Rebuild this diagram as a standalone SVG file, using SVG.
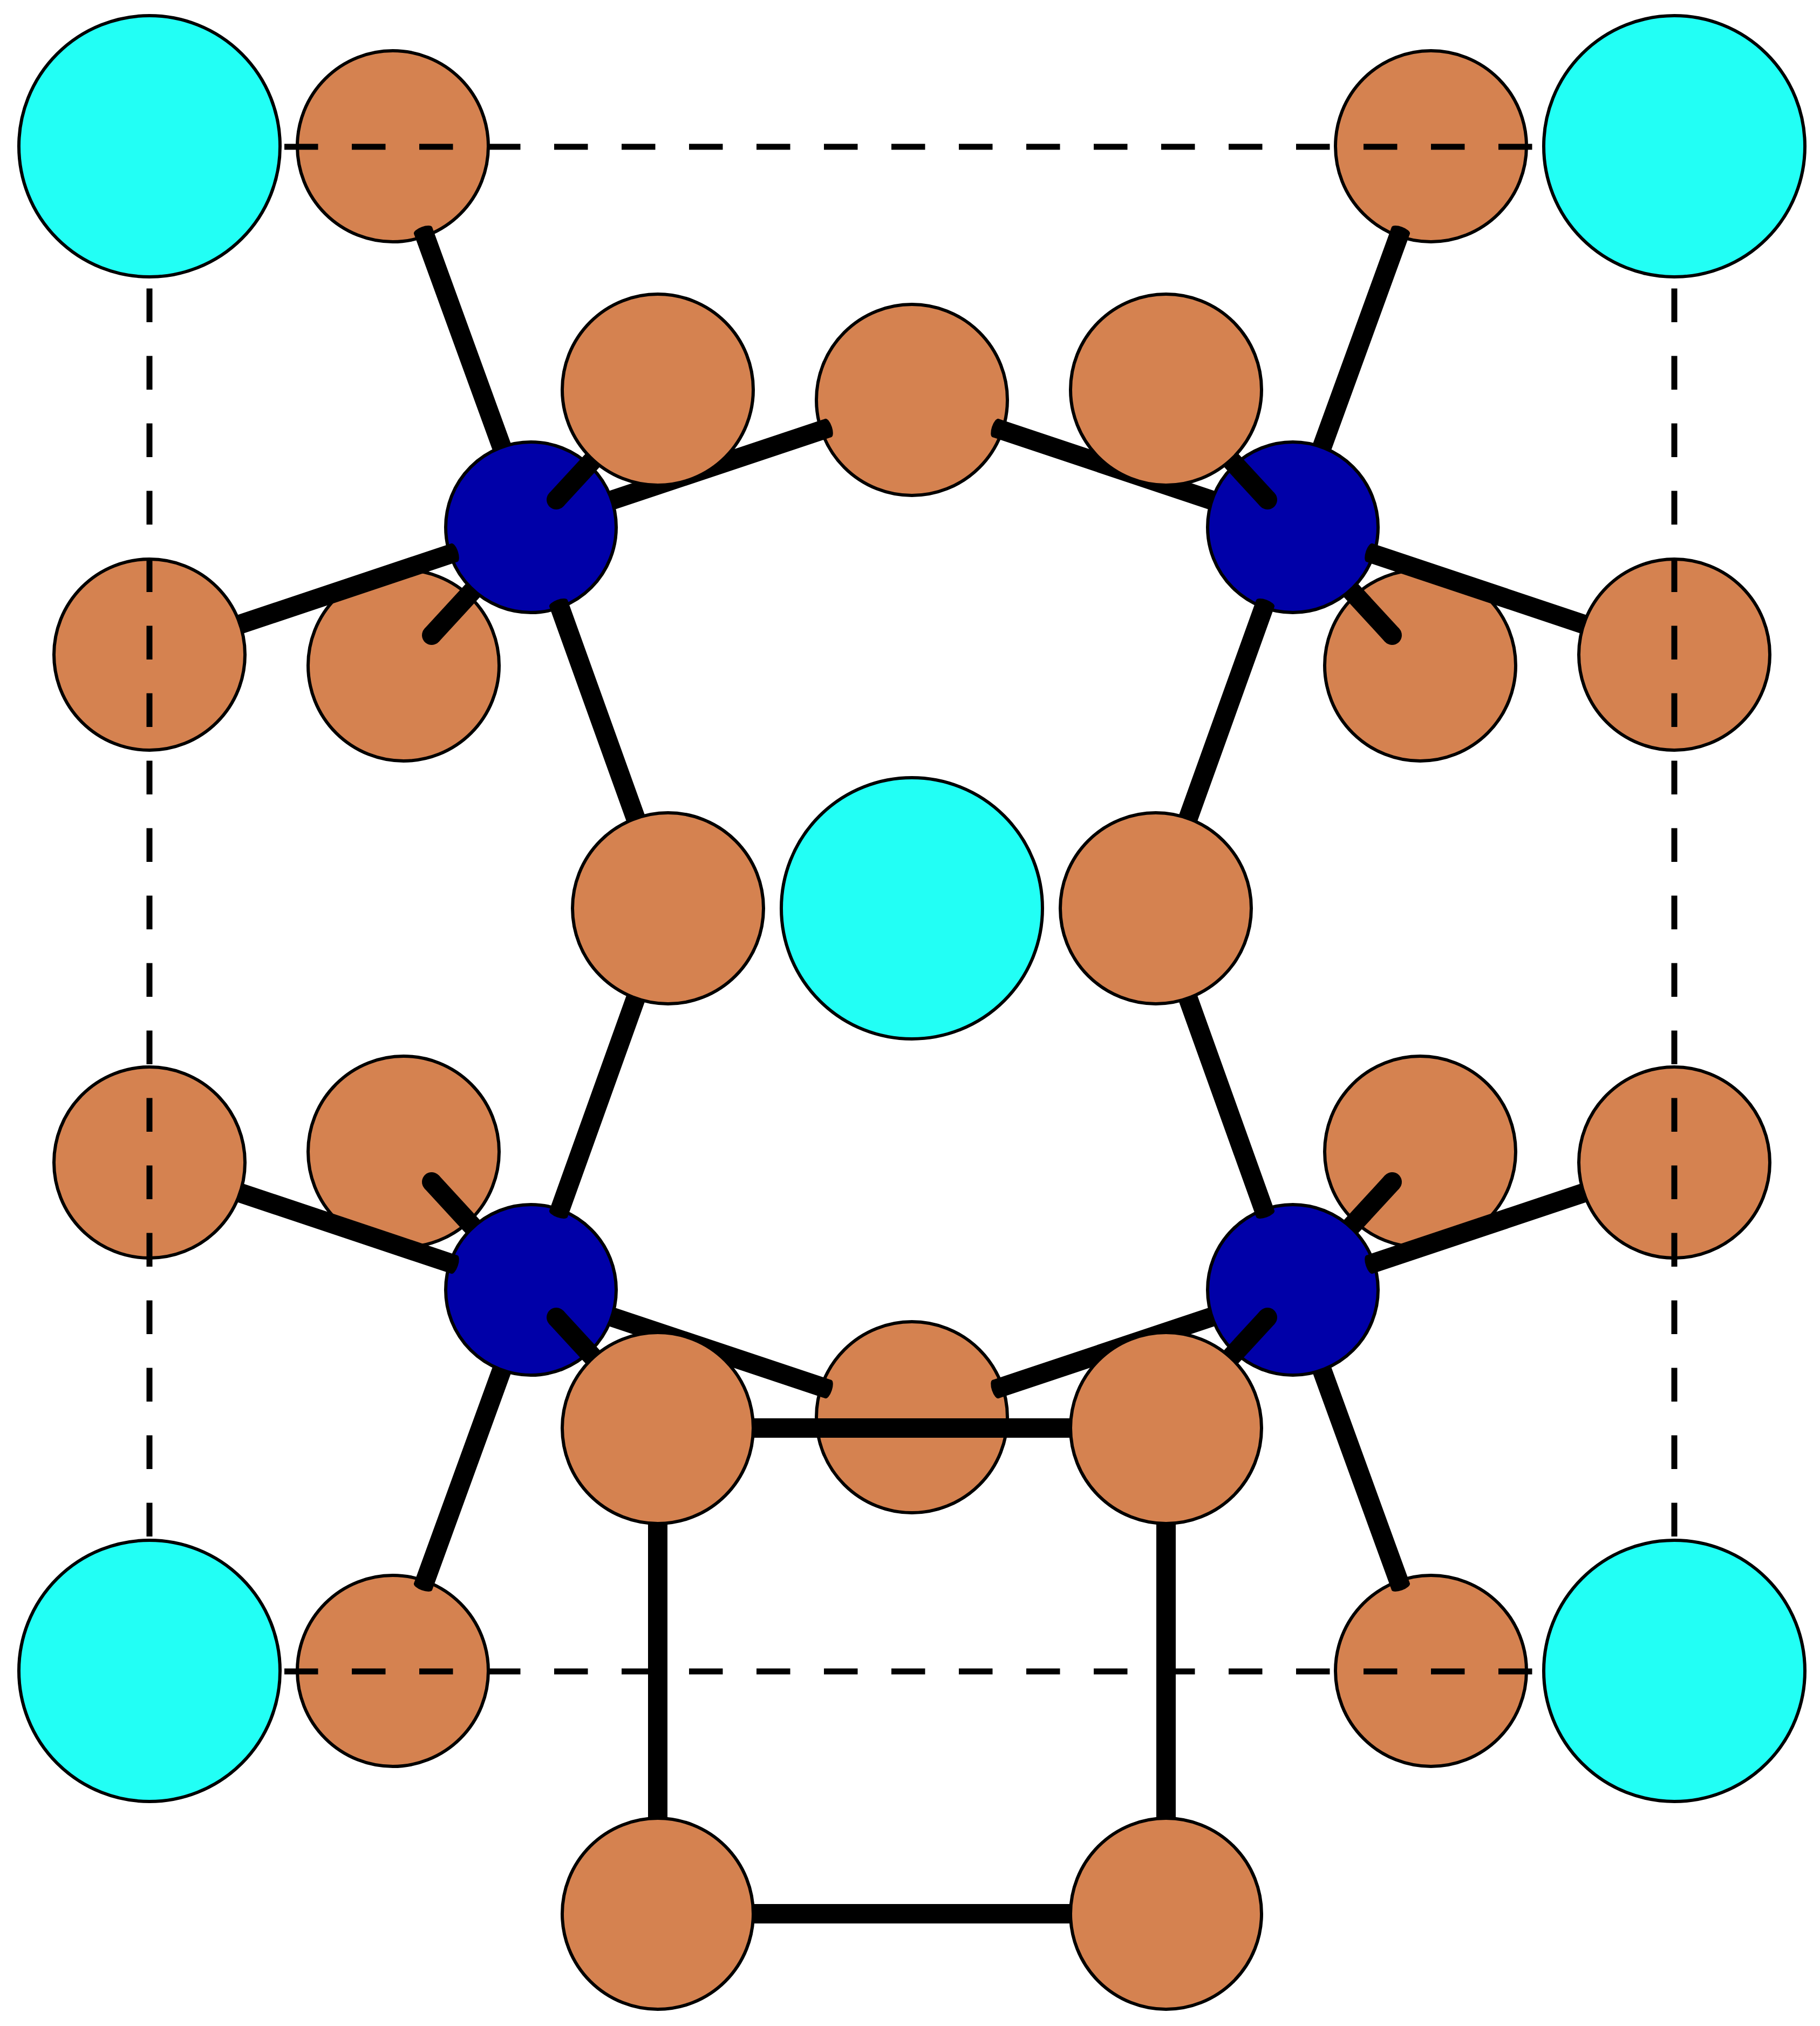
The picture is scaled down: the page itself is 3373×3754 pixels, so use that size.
<svg xmlns="http://www.w3.org/2000/svg" width="3373" height="3754" viewBox="0 0 3373 3754">
<style>
circle{stroke:#000;stroke-width:6}
.cu circle{fill:#d58250}
.co circle{fill:#0000a8}
.ca circle{fill:#22fff5}
.cu,.co,.ca{}
.bond line{stroke:#000;stroke-width:36;fill:none}
.bond ellipse{fill:#000}
.dash line{stroke:#000;stroke-width:11;stroke-dasharray:62.5 62.5;fill:none}
</style>
<rect width="3373" height="3754" fill="#fff"/>
<g id="copper-back">
<g id="cu-back-1" class="cu"><circle cx="1690" cy="741" r="177"/></g>
<g id="cu-back-2" class="cu"><circle cx="1690" cy="2626" r="177"/></g>
<g id="cu-back-3" class="cu"><circle cx="728" cy="271" r="177"/></g>
<g id="cu-back-4" class="cu"><circle cx="2652" cy="271" r="177"/></g>
<g id="cu-back-5" class="cu"><circle cx="728" cy="3096" r="177"/></g>
<g id="cu-back-6" class="cu"><circle cx="2652" cy="3096" r="177"/></g>
<g id="cu-back-7" class="cu"><circle cx="748" cy="1233" r="177"/></g>
<g id="cu-back-8" class="cu"><circle cx="2632" cy="1233" r="177"/></g>
<g id="cu-back-9" class="cu"><circle cx="748" cy="2134" r="177"/></g>
<g id="cu-back-10" class="cu"><circle cx="2632" cy="2134" r="177"/></g>
</g>
<g id="connectors-back" class="bond">
<line x1="984" y1="977" x2="784" y2="427"/><ellipse cx="784" cy="427" rx="7" ry="18" transform="rotate(70 784 427)"/>
<line x1="984" y1="977" x2="1535" y2="793"/><ellipse cx="1535" cy="793" rx="7" ry="18" transform="rotate(-18.5 1535 793)"/>
<line x1="984" y1="977" x2="800" y2="1177"/><ellipse cx="800" cy="1177" rx="18" ry="18" transform="rotate(-47.3 800 1177)"/>
<line x1="2396" y1="977" x2="2596" y2="427"/><ellipse cx="2596" cy="427" rx="7" ry="18" transform="rotate(-70 2596 427)"/>
<line x1="2396" y1="977" x2="1845" y2="793"/><ellipse cx="1845" cy="793" rx="7" ry="18" transform="rotate(18.5 1845 793)"/>
<line x1="2396" y1="977" x2="2580" y2="1177"/><ellipse cx="2580" cy="1177" rx="18" ry="18" transform="rotate(47.3 2580 1177)"/>
<line x1="984" y1="2390" x2="784" y2="2940"/><ellipse cx="784" cy="2940" rx="7" ry="18" transform="rotate(-70 784 2940)"/>
<line x1="984" y1="2390" x2="1535" y2="2574"/><ellipse cx="1535" cy="2574" rx="7" ry="18" transform="rotate(18.5 1535 2574)"/>
<line x1="984" y1="2390" x2="800" y2="2190"/><ellipse cx="800" cy="2190" rx="18" ry="18" transform="rotate(47.3 800 2190)"/>
<line x1="2396" y1="2390" x2="2596" y2="2940"/><ellipse cx="2596" cy="2940" rx="7" ry="18" transform="rotate(70 2596 2940)"/>
<line x1="2396" y1="2390" x2="1845" y2="2574"/><ellipse cx="1845" cy="2574" rx="7" ry="18" transform="rotate(-18.5 1845 2574)"/>
<line x1="2396" y1="2390" x2="2580" y2="2190"/><ellipse cx="2580" cy="2190" rx="18" ry="18" transform="rotate(-47.3 2580 2190)"/>
</g>
<g id="cobalt">
<g id="co-1" class="co"><circle cx="984" cy="977" r="158"/></g>
<g id="co-2" class="co"><circle cx="2396" cy="977" r="158"/></g>
<g id="co-3" class="co"><circle cx="984" cy="2390" r="158"/></g>
<g id="co-4" class="co"><circle cx="2396" cy="2390" r="158"/></g>
</g>
<g id="connectors-front" class="bond">
<line x1="277" y1="1213" x2="842" y2="1024"/><ellipse cx="842" cy="1024" rx="7" ry="18" transform="rotate(-18.5 842 1024)"/>
<line x1="1238" y1="1683" x2="1035" y2="1118"/><ellipse cx="1035" cy="1118" rx="7" ry="18" transform="rotate(70.2 1035 1118)"/>
<line x1="1219" y1="722" x2="1031" y2="926"/><ellipse cx="1031" cy="926" rx="18" ry="18" transform="rotate(-47.3 1031 926)"/>
<line x1="3103" y1="1213" x2="2538" y2="1024"/><ellipse cx="2538" cy="1024" rx="7" ry="18" transform="rotate(18.5 2538 1024)"/>
<line x1="2142" y1="1683" x2="2345" y2="1118"/><ellipse cx="2345" cy="1118" rx="7" ry="18" transform="rotate(-70.2 2345 1118)"/>
<line x1="2161" y1="722" x2="2349" y2="926"/><ellipse cx="2349" cy="926" rx="18" ry="18" transform="rotate(47.3 2349 926)"/>
<line x1="277" y1="2154" x2="842" y2="2343"/><ellipse cx="842" cy="2343" rx="7" ry="18" transform="rotate(18.5 842 2343)"/>
<line x1="1238" y1="1683" x2="1035" y2="2249"/><ellipse cx="1035" cy="2249" rx="7" ry="18" transform="rotate(-70.2 1035 2249)"/>
<line x1="1219" y1="2645" x2="1031" y2="2441"/><ellipse cx="1031" cy="2441" rx="18" ry="18" transform="rotate(47.3 1031 2441)"/>
<line x1="3103" y1="2154" x2="2538" y2="2343"/><ellipse cx="2538" cy="2343" rx="7" ry="18" transform="rotate(-18.5 2538 2343)"/>
<line x1="2142" y1="1683" x2="2345" y2="2249"/><ellipse cx="2345" cy="2249" rx="7" ry="18" transform="rotate(70.2 2345 2249)"/>
<line x1="2161" y1="2645" x2="2349" y2="2441"/><ellipse cx="2349" cy="2441" rx="18" ry="18" transform="rotate(-47.3 2349 2441)"/>
<line x1="1219" y1="2646" x2="2161" y2="2646"/>
<line x1="1219" y1="2646" x2="1219" y2="3546"/>
<line x1="2161" y1="2646" x2="2161" y2="3546"/>
<line x1="1219" y1="3546" x2="2161" y2="3546"/>
</g>
<g id="copper-front">
<g id="cu-front-1" class="cu"><circle cx="277" cy="1213" r="177"/></g>
<g id="cu-front-2" class="cu"><circle cx="3103" cy="1213" r="177"/></g>
<g id="cu-front-3" class="cu"><circle cx="277" cy="2154" r="177"/></g>
<g id="cu-front-4" class="cu"><circle cx="3103" cy="2154" r="177"/></g>
<g id="cu-front-5" class="cu"><circle cx="1238" cy="1683" r="177"/></g>
<g id="cu-front-6" class="cu"><circle cx="2142" cy="1683" r="177"/></g>
<g id="cu-front-7" class="cu"><circle cx="1219" cy="722" r="177"/></g>
<g id="cu-front-8" class="cu"><circle cx="2161" cy="722" r="177"/></g>
<g id="cu-front-9" class="cu"><circle cx="1219" cy="2646" r="177"/></g>
<g id="cu-front-10" class="cu"><circle cx="2161" cy="2646" r="177"/></g>
<g id="cu-front-11" class="cu"><circle cx="1219" cy="3546" r="177"/></g>
<g id="cu-front-12" class="cu"><circle cx="2161" cy="3546" r="177"/></g>
</g>
<g id="connectors-cell" class="dash">
<line x1="277" y1="272" x2="3103" y2="272"/>
<line x1="277" y1="3097" x2="3103" y2="3097"/>
<line x1="277" y1="3097" x2="277" y2="272"/>
<line x1="3103" y1="3097" x2="3103" y2="272"/>
</g>
<g id="calcium">
<g id="ca-1" class="ca"><circle cx="277" cy="271" r="242"/></g>
<g id="ca-2" class="ca"><circle cx="3103" cy="271" r="242"/></g>
<g id="ca-3" class="ca"><circle cx="1690" cy="1683" r="242"/></g>
<g id="ca-4" class="ca"><circle cx="277" cy="3096" r="242"/></g>
<g id="ca-5" class="ca"><circle cx="3103" cy="3096" r="242"/></g>
</g>
</svg>
